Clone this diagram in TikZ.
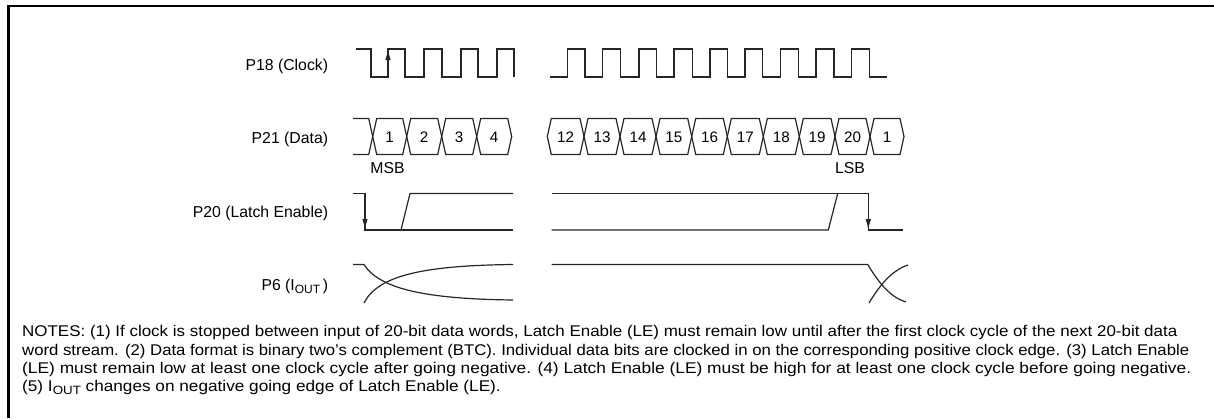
\documentclass[tikz,border=0pt]{standalone}
\usepackage{graphicx}
\usepackage{fontspec}
\setmainfont{Liberation Sans}
\usetikzlibrary{arrows.meta}
\newcommand\fsz[1]{\fontsize{#1}{#1}\selectfont}
\begin{document}
\begin{tikzpicture}[x=1pt,y=-1pt,
  sig/.style={line width=1.2pt, draw=black!85, line join=miter},
  frame/.style={line width=2.3pt, draw=black},
  lbl/.style={inner sep=0pt, anchor=base east, font={\fsz{15.8}}},
  dig/.style={inner sep=0pt, anchor=base, font={\fsz{15.2}}},
  note/.style={inner sep=0pt, anchor=base west, font={\fsz{15.5}}},
  edgearrow/.style={sig, -{Latex[length=11pt,width=5.5pt]}}
]
\useasboundingbox (0,0) rectangle (1214,418);
\draw[frame] (8.5,418) -- (8.5,6) -- (1214,6);

% labels
\node[lbl] (lclk) at (328.3,70.7) {P18 (Clock)};
\node[lbl] (ldata) at (328.3,143.3) {P21 (Data)};
\node[lbl] (lle) at (328.3,217.3) {P20 (Latch Enable)};
\node[lbl] (liout) at (328.3,290.7) {P6 (I\raisebox{-3pt}{\fsz{12}OUT}\,)};

% clock
\draw[sig] (356,49) -- (371,49) -- (371,77) -- (388,77) -- (388,49) -- (405,49) -- (405,77) -- (424,77) -- (424,49) -- (442,49) -- (442,77) -- (461,77) -- (461,49) -- (478,49) -- (478,77) -- (497,77) -- (497,49) -- (514,49) -- (514,77);
\draw[edgearrow] (388,77) -- (388,49);
\draw[sig] (550,77) -- (567.3,77) -- (567.3,49) -- (585,49) -- (585,77) -- (602.7,77) -- (602.7,49) -- (620.7,49) -- (620.7,77) -- (639,77) -- (639,49) -- (656.7,49) -- (656.7,77) -- (674,77) -- (674,49) -- (692.3,49) -- (692.3,77) -- (710,77) -- (710,49) -- (727.7,49) -- (727.7,77) -- (745,77) -- (745,49) -- (762.7,49) -- (762.7,77) -- (780.7,77) -- (780.7,49) -- (798.3,49) -- (798.3,77) -- (816,77) -- (816,49) -- (834,49) -- (834,77) -- (851.7,77) -- (851.7,49) -- (869.3,49) -- (869.3,77) -- (887.3,77);

% data
\draw[sig] (353,118.5) -- (368.7,118.5) -- (372.7,136.5) -- (368.7,154.5) -- (353,154.5);
\foreach \a/\b/\t [count=\i] in {372.7/406.7/1, 406.7/441.7/2, 441.7/476.7/3, 476.7/511.7/4}{
  \draw[sig] (\a,136.5) -- (\a+4,118.5) -- (\b-4,118.5) -- (\b,136.5) -- (\b-4,154.5) -- (\a+4,154.5) -- cycle;
  \node[dig] (da\i) at ({(\a+\b)/2},142.5) {\t};
}
\foreach \a/\b/\t [count=\i] in {547.3/584/12, 584/620/13, 620/656/14, 656/691.7/15, 691.7/727.3/16, 727.3/763.3/17, 763.3/799.3/18, 799.3/835/19, 835/870/20, 870/904/1}{
  \draw[sig] (\a,136.5) -- (\a+4,118.5) -- (\b-4,118.5) -- (\b,136.5) -- (\b-4,154.5) -- (\a+4,154.5) -- cycle;
  \node[dig] (db\i) at ({(\a+\b)/2},142.5) {\t};
}
\node[dig, font={\fsz{15.8}}] (msb) at (387.5,173.5) {MSB};
\node[dig, font={\fsz{15.8}}] (lsb) at (850,173.5) {LSB};

% latch enable
\draw[sig] (353,193.5) -- (365,193.5) -- (365,230) -- (513,230);
\draw[edgearrow] (365,193.5) -- (365,230);
\draw[sig] (401,230) -- (410,193.5) -- (513,193.5);
\draw[sig] (551.7,230) -- (828.3,230) -- (837.7,193.5);
\draw[sig] (551.7,193.5) -- (868.3,193.5) -- (868.3,230) -- (903,230);
\draw[edgearrow] (868.3,193.5) -- (868.3,230);

% iout
\draw[sig] (353,264.5) -- (364,264.5) .. controls (380,290) and (430,299) .. (513,300);
\draw[sig] (364,303) .. controls (378,275) and (425,265.5) .. (513,264.5);
\draw[sig] (551.7,264.5) -- (867.7,264.5) .. controls (880,285) and (892,298) .. (906,302);
\draw[sig] (869,303) .. controls (881,283) and (893,270) .. (908,265);

% notes
\node[note] (n1) at (22,336.5) {\resizebox{1155pt}{\height}{NOTES: (1) If clock is stopped between input of 20-bit data words, Latch Enable (LE) must remain low until after the first clock cycle of the next 20-bit data}};
\node[note] (n2) at (22,355) {\resizebox{1167pt}{\height}{word stream. (2) Data format is binary two’s complement (BTC). Individual data bits are clocked in on the corresponding positive clock edge. (3) Latch Enable}};
\node[note] (n3) at (22,373.3) {\resizebox{1169pt}{\height}{(LE) must remain low at least one clock cycle after going negative. (4) Latch Enable (LE) must be high for at least one clock cycle before going negative.}};
\node[note] (n4) at (22,391.5) {\scalebox{1.11}[1]{(5) I\raisebox{-3pt}{\fsz{12}OUT} changes on negative going edge of Latch Enable (LE).}};
\end{tikzpicture}
\end{document}
